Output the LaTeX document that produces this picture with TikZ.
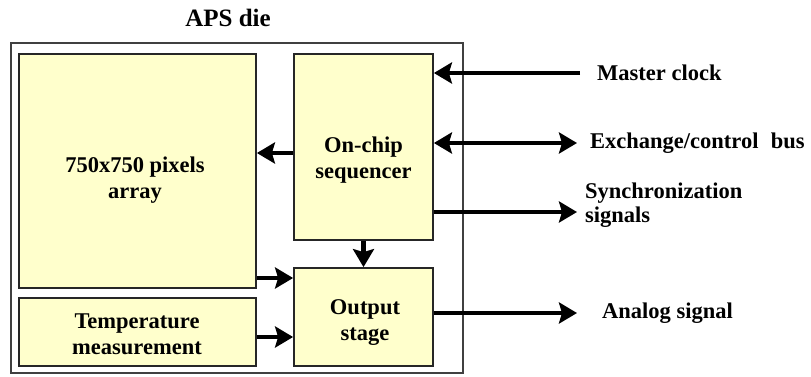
\documentclass[tikz,border=0pt]{standalone}
\usepackage{fontspec}
\setmainfont{Liberation Serif}
\usetikzlibrary{arrows.meta}
\definecolor{boxfill}{HTML}{FFFFCC}
\begin{document}
\begin{tikzpicture}[x=1pt,y=-1pt,
  blk/.style={draw=black!85, line width=1.8pt, fill=boxfill, rectangle, inner sep=0pt},
  txt/.style={align=center, inner sep=0pt, font=\fontsize{22.5}{26}\selectfont\bfseries},
  lbl/.style={align=left, inner sep=0pt, anchor=west, font=\fontsize{22.5}{24}\selectfont\bfseries},
  conn/.style={line width=4.5pt, -{Stealth[length=18pt,width=21pt,inset=3pt]}},
  dconn/.style={line width=4.5pt, {Stealth[length=18pt,width=21pt,inset=3pt]}-{Stealth[length=18pt,width=21pt,inset=3pt]}}]
\useasboundingbox (0,0) rectangle (811,376);
\fill[white] (0,0) rectangle (811,376);
% title
\node[txt, font=\fontsize{25}{28}\selectfont\bfseries] (title) at (228,18) {APS die};
% outer die
\node[draw=black!75, line width=1.3pt, rectangle, minimum width=452pt, minimum height=330pt, inner sep=0pt] (die) at (237,208) {};
% blocks
\node[blk, minimum width=237pt, minimum height=234pt] (arr) at (137.5,171) {};
\node[blk, minimum width=237pt, minimum height=68pt] (tmp) at (137.5,332) {};
\node[blk, minimum width=139pt, minimum height=186pt] (seq) at (363.5,147) {};
\node[blk, minimum width=139pt, minimum height=98pt] (out) at (363.5,317) {};
% block texts
\node[txt] (arrt) at (135,180) {750x750 pixels\\array};
\node[txt] (tmpt) at (137,334) {Temperature\\measurement};
\node[txt] (seqt) at (363.5,160) {On-chip\\sequencer};
\node[txt] (outt) at (365,323) {Output\\stage};
% external ends
\coordinate (mc) at (580,73);
\coordinate (ex) at (577,143);
\coordinate (sy) at (577,212);
\coordinate (an) at (577,313);
\coordinate (ya) at (0,153);
\coordinate (yb) at (0,278);
\coordinate (yc) at (0,337);
% internal connectors
\draw[conn] (seq.west |- ya) -- (arr.east |- ya);
\draw[conn] (seq.south) -- (out.north);
\draw[conn] (arr.east |- yb) -- (out.west |- yb);
\draw[conn] (tmp.east |- yc) -- (out.west |- yc);
% external connectors
\draw[conn] (mc) -- (seq.east |- mc);
\draw[dconn] (seq.east |- ex) -- (ex);
\draw[conn] (seq.east |- sy) -- (sy);
\draw[conn] (out.east |- an) -- (an);
% labels
\node[lbl] (mcl) at (597,73) {Master clock};
\node[lbl] (exl) at (590,143) {Exchange/control\hspace{0.55em}bus};
\node[lbl] (syl) at (585,205) {Synchronization\\signals};
\node[lbl] (anl) at (602,313) {Analog signal};
\end{tikzpicture}
\end{document}
